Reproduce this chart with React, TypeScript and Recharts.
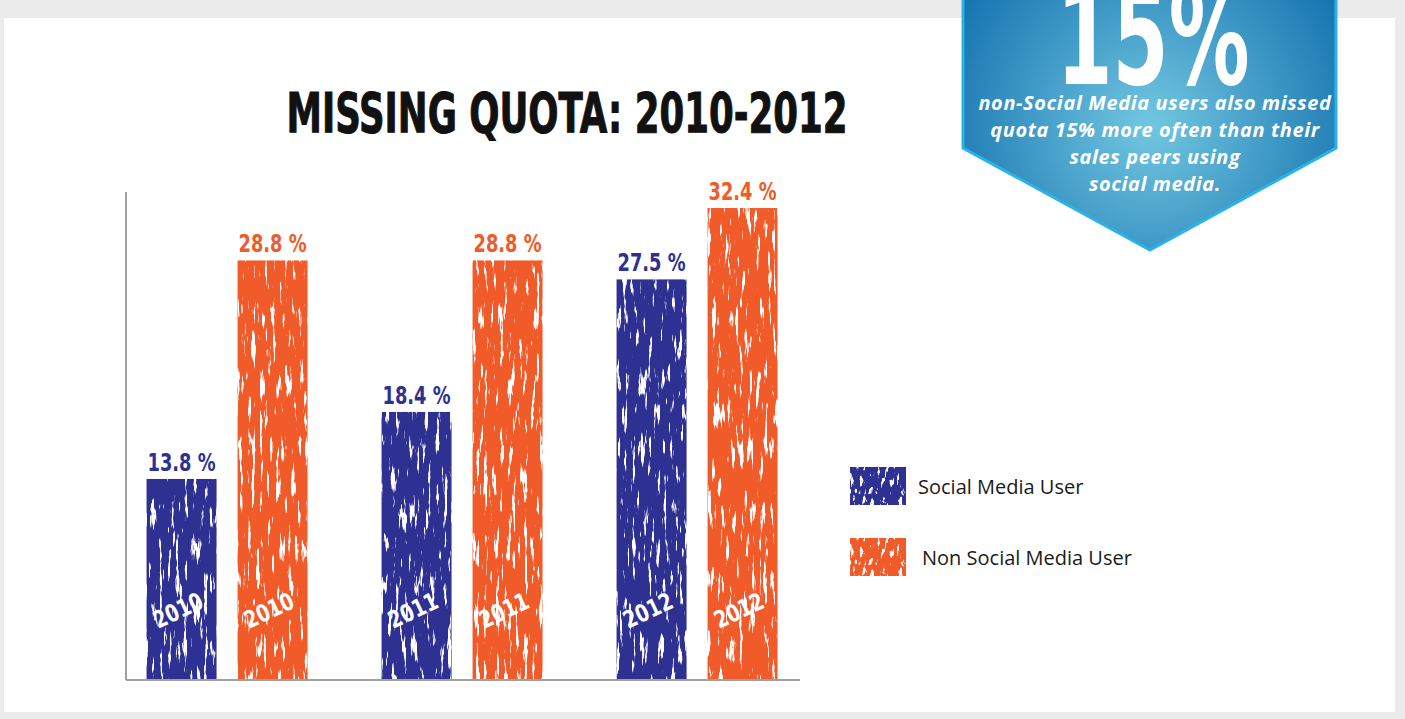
import React from "react";
import { BarChart, Bar, XAxis, YAxis, Legend, LabelList } from "recharts";

const years = ["2010", "2011", "2012"];
const slots = [0, 1, 2];
const socialUsers = [13.8, 18.4, 27.5];
const nonSocialUsers = [28.8, 28.8, 32.4];
const seriesNames = ["Social Media User", "Non Social Media User"];
const badgeLines = [
  "non-Social Media users also missed",
  "quota 15% more often than their",
  "sales peers using",
  "social media.",
];

const BLUE = "#2e3192";
const ORANGE = "#f15a29";
const AXIS = "#a0a0a0";
const CONDENSED = "DejaVu Sans Condensed, DejaVu Sans, sans-serif";

const data = years.map((year, i) => ({
  slot: slots[i],
  year,
  social: socialUsers[i],
  nonSocial: nonSocialUsers[i],
}));

// grungy bar with the noise filter applied
function GrungeBar(props: any) {
  const { x, y, width, height, fill } = props;
  if (!width || !height) return null;
  return (
    <rect
      x={x}
      y={y}
      width={width}
      height={height}
      fill={fill}
      filter="url(#grunge)"
    />
  );
}

function valueLabel(color: string) {
  return (props: any) => {
    const { x, y, width, value } = props;
    return (
      <text
        x={x + width / 2}
        y={y - 8}
        textAnchor="middle"
        fill={color}
        fontFamily={CONDENSED}
        fontWeight="bold"
        fontSize={25}
        textLength={68}
        lengthAdjust="spacingAndGlyphs"
      >
        {value} %
      </text>
    );
  };
}

function YearLabel(props: any) {
  const { x, y, width, height, value } = props;
  const cx = x + width / 2;
  const cy = y + height - 62;
  return (
    <text
      x={cx}
      y={cy}
      textAnchor="middle"
      fill="#ffffff"
      fontFamily={CONDENSED}
      fontWeight="bold"
      fontSize={24}
      textLength={52}
      lengthAdjust="spacingAndGlyphs"
      transform={`rotate(-25 ${cx} ${cy})`}
    >
      {value}
    </text>
  );
}

function LegendBox(props: any) {
  const items = [...(props.payload || [])].sort(
    (a: any, b: any) => seriesNames.indexOf(a.value) - seriesNames.indexOf(b.value),
  );
  return (
    <div>
      {items.map((entry: any, i: number) => (
        <div
          key={i}
          style={{
            display: "flex",
            alignItems: "center",
            height: 38,
            marginBottom: 33,
          }}
        >
          <svg width={56} height={38}>
            <rect
              x={0}
              y={0}
              width={56}
              height={38}
              fill={entry.color}
              filter="url(#grunge2)"
            />
          </svg>
          <span
            style={{
              marginLeft: 12 + i * 4,
              fontFamily: "Open Sans, sans-serif",
              fontSize: 20,
              color: "#1a1a1a",
            }}
          >
            {entry.value}
          </span>
        </div>
      ))}
    </div>
  );
}

export default function App() {
  return (
    <div
      style={{
        position: "fixed",
        inset: 0,
        background: "#ebebeb",
        overflow: "hidden",
      }}
    >
      <svg width={0} height={0} style={{ position: "absolute" }}>
        <defs>
          <filter
            id="grunge"
            x="0"
            y="0"
            width="1"
            height="1"
            colorInterpolationFilters="sRGB"
          >
            <feTurbulence
              type="fractalNoise"
              baseFrequency="0.25 0.03"
              numOctaves={4}
              seed={11}
              result="noise"
            />
            <feColorMatrix
              in="noise"
              type="matrix"
              values="0 0 0 0 0  0 0 0 0 0  0 0 0 0 0  -12 0 0 0 8.3"
              result="mask"
            />
            <feComposite in="SourceGraphic" in2="mask" operator="in" />
          </filter>
          <filter
            id="grunge2"
            x="0"
            y="0"
            width="1"
            height="1"
            colorInterpolationFilters="sRGB"
          >
            <feTurbulence
              type="fractalNoise"
              baseFrequency="0.3 0.1"
              numOctaves={3}
              seed={3}
              result="noise"
            />
            <feColorMatrix
              in="noise"
              type="matrix"
              values="0 0 0 0 0  0 0 0 0 0  0 0 0 0 0  -12 0 0 0 8.3"
              result="mask"
            />
            <feComposite in="SourceGraphic" in2="mask" operator="in" />
          </filter>
        </defs>
      </svg>

      {/* white panel */}
      <div
        style={{
          position: "absolute",
          left: 4,
          top: 18,
          width: 1391,
          height: 694,
          background: "#ffffff",
        }}
      />

      <div style={{ position: "absolute", left: 0, top: 0 }}>
        <BarChart
          width={1405}
          height={719}
          data={data}
          barSize={70}
          barGap={21}
          margin={{ top: 192, right: 605, bottom: 37, left: 124 }}
        >
          <XAxis
            dataKey="slot"
            type="number"
            domain={[-0.43, 2.438]}
            allowDataOverflow
            height={2}
            tick={false}
            tickLine={false}
            axisLine={{ stroke: AXIS, strokeWidth: 2 }}
          />
          <YAxis
            domain={[0, 33.5]}
            width={2}
            tick={false}
            tickLine={false}
            axisLine={{ stroke: AXIS, strokeWidth: 2 }}
          />
          <Legend
            layout="vertical"
            align="center"
            verticalAlign="middle"
            content={<LegendBox />}
            wrapperStyle={{ left: 850, top: 467, width: 420 }}
          />
          <Bar
            dataKey="social"
            name={seriesNames[0]}
            fill={BLUE}
            shape={<GrungeBar />}
            isAnimationActive={false}
          >
            <LabelList dataKey="social" content={valueLabel(BLUE)} />
            <LabelList dataKey="year" content={<YearLabel />} />
          </Bar>
          <Bar
            dataKey="nonSocial"
            name={seriesNames[1]}
            fill={ORANGE}
            shape={<GrungeBar />}
            isAnimationActive={false}
          >
            <LabelList dataKey="nonSocial" content={valueLabel(ORANGE)} />
            <LabelList dataKey="year" content={<YearLabel />} />
          </Bar>
        </BarChart>
      </div>

      {/* title and badge */}
      <svg
        width={1405}
        height={719}
        style={{ position: "absolute", left: 0, top: 0, pointerEvents: "none" }}
      >
        <defs>
          <radialGradient
            id="badgeFill"
            cx={1150}
            cy={125}
            r={230}
            gradientUnits="userSpaceOnUse"
          >
            <stop offset="0" stopColor="#72c7e1" />
            <stop offset="1" stopColor="#1371ae" />
          </radialGradient>
        </defs>
        <text
          x={567}
          y={132}
          textAnchor="middle"
          fontFamily={CONDENSED}
          fontWeight="bold"
          fontSize={55}
          fill="#111"
          stroke="#111"
          strokeWidth={1}
          textLength={561}
          lengthAdjust="spacingAndGlyphs"
        >
          MISSING QUOTA: 2010-2012
        </text>
        <polygon
          points="963,-10 1336,-10 1336,148 1150,250 963,148"
          fill="url(#badgeFill)"
          stroke="#2ab3e6"
          strokeWidth={3}
        />
        <text
          x={1153}
          y={84}
          textAnchor="middle"
          fontFamily={CONDENSED}
          fontWeight="bold"
          fontSize={135}
          fill="#ffffff"
          textLength={193}
          lengthAdjust="spacingAndGlyphs"
        >
          15%
        </text>
        {badgeLines.map((line, i) => (
          <text
            key={i}
            x={1155}
            y={110 + i * 27}
            textAnchor="middle"
            fontFamily="Open Sans, sans-serif"
            fontStyle="italic"
            fontWeight="bold"
            fontSize={20}
            letterSpacing={0.6}
            fill="#ffffff"
          >
            {line}
          </text>
        ))}
      </svg>
    </div>
  );
}
